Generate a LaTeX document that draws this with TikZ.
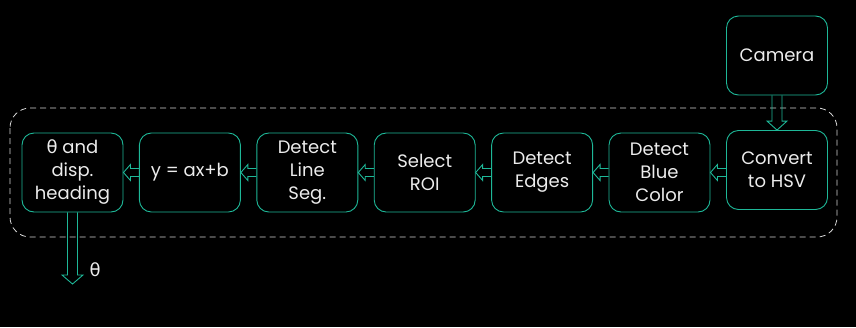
\documentclass[tikz,border=0pt]{standalone}
\usepackage{fontspec}
\setmainfont{Poppins}
\newfontfamily\greekfont{DejaVu Sans}
\usetikzlibrary{calc}
\definecolor{teal}{RGB}{30,184,152}
\definecolor{ink}{RGB}{236,236,236}
\definecolor{frame}{RGB}{215,215,215}
\newcommand{\thetachar}{{\greekfont θ}}
\tikzset{
  stage/.style={draw=teal, line width=0.9pt, rounded corners=12pt, fill=black,
    minimum width=101pt, minimum height=79pt, inner sep=2pt,
    text=ink, align=center, font=\fontsize{18}{23}\selectfont},
  flow/.style={draw=teal, line width=0.9pt, line join=miter},
  group/.style={draw=frame, line width=0.8pt, dash pattern=on 6pt off 4pt, rounded corners=20pt},
  lbl/.style={text=ink, font=\fontsize{18}{20}\selectfont}
}
% left-pointing hollow block arrow from #1 (right) into #2 (left)
\newcommand{\leftflow}[2]{%
  \draw[flow] ($(#1.west |- #2.east)+(0,-4)$) -- ($(#2.east)+(7,-4)$) -- ($(#2.east)+(7,-8)$)
    -- (#2.east) -- ($(#2.east)+(7,8)$) -- ($(#2.east)+(7,4)$) -- ($(#1.west |- #2.east)+(0,4)$);}
\begin{document}
\begin{tikzpicture}[x=1pt,y=-1pt]
  \fill[black] (0,0) rectangle (856,327);
  \useasboundingbox (0,0) rectangle (856,327);
  % dashed processing group
  \draw[group] (10,108) rectangle (837,237);
  % stages
  \node[stage] (cam) at (777,55.5) {Camera};
  \node[stage] (hsv) at (777,170) {Convert\\to HSV};
  \node[stage] (blue) at (659.5,172.5) {Detect\\Blue\\Color};
  \node[stage] (edges) at (542.1,172.5) {Detect\\Edges};
  \node[stage] (roi) at (424.7,172.5) {Select\\ROI};
  \node[stage] (seg) at (307.3,172.5) {Detect\\Line\\Seg.};
  \node[stage] (fit) at (189.9,172.5) {y = ax+b};
  \node[stage] (head) at (72.5,172.5) {\thetachar{} and\\disp.\\heading};
  % camera into conversion
  \draw[flow] ($(cam.south)+(-5,0)$) -- ($(hsv.north)+(-5,-9)$) -- ($(hsv.north)+(-10,-9)$)
    -- (hsv.north) -- ($(hsv.north)+(10,-9)$) -- ($(hsv.north)+(5,-9)$) -- ($(cam.south)+(5,0)$);
  % chain of stages
  \leftflow{hsv}{blue}
  \leftflow{blue}{edges}
  \leftflow{edges}{roi}
  \leftflow{roi}{seg}
  \leftflow{seg}{fit}
  \leftflow{fit}{head}
  % heading output
  \coordinate (out) at (72.5,284);
  \draw[flow] ($(head.south)+(-5,0)$) -- ($(out)+(-5,-9)$) -- ($(out)+(-10.5,-9)$)
    -- (out) -- ($(out)+(10.5,-9)$) -- ($(out)+(5,-9)$) -- ($(head.south)+(5,0)$);
  \node[lbl, anchor=west] (theta) at (86,270) {\thetachar};
\end{tikzpicture}
\end{document}
